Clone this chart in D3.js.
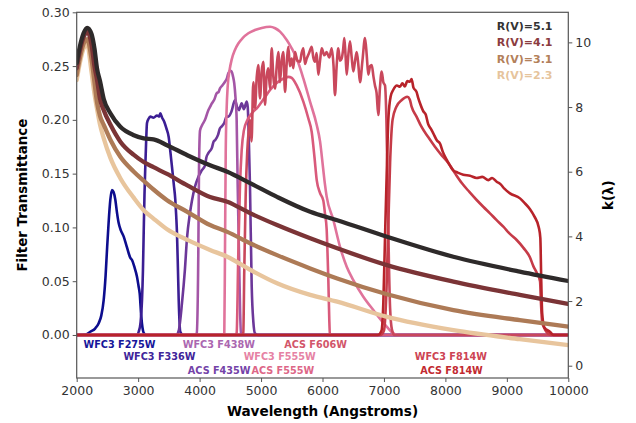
<!DOCTYPE html>
<html>
<head>
<meta charset="utf-8">
<script src="https://cdn.jsdelivr.net/npm/d3@7"></script>
<style>
  body { margin: 0; background: #fff; }
  svg { display: block; font-family: "DejaVu Sans", sans-serif; }
</style>
</head>
<body>
<svg id="chart"></svg>
<script>
const width = 636;
const height = 423;

// filter throughput curves, [wavelength (A), transmittance]
const f275w = [[2000,0],[2150,0.0005],[2221,0.003],[2300,0.006],[2358,0.011],[2400,0.018],[2439,0.0325],[2470,0.055],[2493,0.079],[2520,0.105],[2547,0.1255],[2574,0.1348],[2600,0.133],[2628,0.126],[2655,0.114],[2683,0.104],[2720,0.097],[2765,0.0914],[2800,0.085],[2846,0.076],[2870,0.072],[2900,0.0697],[2940,0.063],[2981,0.0542],[3005,0.046],[3025,0.0387],[3051,0.017],[3070,0.007],[3090,0.002],[3130,0],[10000,0]];
const f336w = [[2000,0],[2980,0],[3009,0.003],[3040,0.012],[3063,0.0325],[3078,0.06],[3090,0.0945],[3103,0.13],[3116,0.156],[3130,0.18],[3144,0.197],[3170,0.201],[3198,0.203],[3250,0.202],[3307,0.204],[3340,0.203],[3360,0.206],[3390,0.202],[3426,0.198],[3460,0.192],[3497,0.184],[3525,0.17],[3551,0.156],[3580,0.14],[3605,0.1255],[3620,0.11],[3632,0.0945],[3648,0.06],[3660,0.0325],[3686,0.003],[3730,0],[10000,0]];
const f435w = [[2000,0],[3620,0],[3660,0.004],[3714,0.03],[3760,0.06],[3795,0.09],[3840,0.112],[3876,0.125],[3925,0.138],[3980,0.147],[4034,0.153],[4090,0.158],[4110,0.165],[4142,0.169],[4200,0.174],[4230,0.18],[4251,0.181],[4300,0.186],[4330,0.192],[4360,0.194],[4400,0.197],[4440,0.203],[4467,0.203],[4520,0.208],[4576,0.2185],[4610,0.212],[4640,0.209],[4685,0.2155],[4720,0.21],[4767,0.217],[4783,0.212],[4800,0.185],[4820,0.138],[4848,0.045],[4875,0.012],[4902,0.0015],[4950,0],[10000,0]];
const f438w = [[2000,0],[3930,0],[3953,0.0015],[3979,0.076],[3990,0.153],[4007,0.19],[4040,0.195],[4088,0.2],[4142,0.209],[4170,0.212],[4197,0.215],[4240,0.219],[4278,0.2247],[4310,0.226],[4332,0.2293],[4370,0.232],[4413,0.2354],[4440,0.238],[4467,0.2433],[4500,0.2455],[4522,0.2448],[4545,0.24],[4564,0.234],[4585,0.22],[4603,0.2],[4620,0.138],[4641,0.076],[4660,0.02],[4674,0.0015],[4710,0],[10000,0]];
const f555wWfc3 = [[2000,0],[4380,0],[4402,0.002],[4413,0.076],[4425,0.169],[4440,0.21],[4457,0.231],[4490,0.247],[4522,0.256],[4575,0.265],[4630,0.271],[4700,0.276],[4793,0.2805],[4900,0.2835],[5011,0.2855],[5146,0.2866],[5230,0.2852],[5309,0.282],[5418,0.2742],[5499,0.2665],[5580,0.257],[5688,0.2386],[5797,0.2169],[5906,0.1953],[5960,0.18],[6010,0.155],[6040,0.14],[6068,0.1286],[6176,0.107],[6285,0.082],[6394,0.0635],[6501,0.051],[6664,0.0356],[6827,0.0232],[7045,0.0077],[7152,0.0016],[7250,0],[10000,0]];
const f555wAcs = [[2000,0],[4580,0],[4603,0.002],[4630,0.076],[4657,0.138],[4685,0.172],[4720,0.19],[4780,0.2],[4850,0.206],[4950,0.212],[5050,0.22],[5150,0.228],[5250,0.234],[5350,0.238],[5444,0.24],[5499,0.239],[5580,0.232],[5688,0.217],[5769,0.2015],[5824,0.189],[5870,0.165],[5906,0.144],[5960,0.132],[6013,0.125],[6040,0.113],[6068,0.098],[6085,0.07],[6095,0.051],[6110,0.015],[6120,0.0015],[6150,0],[10000,0]];
const f606w = [[2000,0],[4690,0],[4711,0.002],[4727,0.06],[4750,0.13],[4775,0.17],[4800,0.19],[4820,0.2],[4845,0.18],[4874,0.235],[4902,0.211],[4930,0.24],[4955,0.251],[4983,0.22],[5010,0.245],[5037,0.254],[5064,0.214],[5090,0.24],[5118,0.248],[5146,0.229],[5173,0.2665],[5200,0.24],[5227,0.229],[5255,0.25],[5281,0.263],[5308,0.235],[5335,0.255],[5362,0.263],[5390,0.226],[5420,0.255],[5444,0.268],[5470,0.25],[5499,0.257],[5525,0.248],[5553,0.263],[5590,0.255],[5634,0.254],[5660,0.262],[5688,0.2665],[5715,0.252],[5743,0.257],[5780,0.262],[5824,0.268],[5850,0.258],[5878,0.254],[5905,0.262],[5932,0.242],[5960,0.255],[5987,0.2665],[6030,0.26],[6068,0.263],[6110,0.258],[6150,0.2665],[6180,0.25],[6203,0.223],[6230,0.25],[6257,0.2665],[6285,0.255],[6312,0.257],[6335,0.265],[6355,0.276],[6375,0.26],[6394,0.242],[6420,0.26],[6448,0.273],[6475,0.258],[6501,0.245],[6530,0.255],[6557,0.263],[6585,0.25],[6610,0.235],[6650,0.255],[6692,0.276],[6720,0.26],[6745,0.242],[6775,0.25],[6801,0.251],[6830,0.24],[6854,0.232],[6880,0.225],[6908,0.2045],[6935,0.23],[6963,0.245],[6990,0.235],[7017,0.232],[7040,0.2],[7060,0.14],[7080,0.07],[7100,0.025],[7130,0.005],[7170,0],[10000,0]];
const f814wWfc3 = [[2000,0],[6950,0],[7000,0.004],[7040,0.04],[7070,0.1],[7100,0.16],[7140,0.2],[7200,0.212],[7290,0.2185],[7380,0.2215],[7420,0.219],[7450,0.2122],[7530,0.203],[7610,0.1936],[7720,0.184],[7830,0.175],[7940,0.167],[8050,0.1596],[8160,0.15],[8270,0.141],[8390,0.133],[8509,0.1255],[8620,0.119],[8725,0.1131],[8830,0.107],[8943,0.1007],[9050,0.094],[9160,0.0883],[9270,0.081],[9377,0.072],[9431,0.064],[9485,0.058],[9540,0.05],[9555,0.03],[9575,0.012],[9621,0.005],[9680,0.001],[9720,0],[10000,0]];
const f814wAcs = [[2000,0],[6900,0],[6960,0.004],[6990,0.03],[7017,0.09],[7045,0.15],[7071,0.2],[7110,0.222],[7152,0.228],[7210,0.232],[7261,0.2308],[7300,0.234],[7340,0.231],[7380,0.236],[7424,0.2355],[7450,0.238],[7480,0.23],[7530,0.226],[7560,0.22],[7587,0.2154],[7640,0.208],[7680,0.205],[7720,0.196],[7760,0.192],[7803,0.1875],[7860,0.181],[7912,0.178],[7960,0.17],[8020,0.163],[8080,0.157],[8129,0.153],[8200,0.151],[8291,0.149],[8400,0.148],[8509,0.146],[8600,0.147],[8700,0.144],[8760,0.146],[8835,0.1425],[8900,0.14],[8960,0.136],[9051,0.1317],[9214,0.127],[9300,0.122],[9377,0.117],[9450,0.11],[9520,0.1],[9545,0.09],[9560,0.05],[9575,0.02],[9610,0.007],[9700,0.003],[9760,0],[10000,0]];

const filterNames = ["WFC3 F275W", "WFC3 F336W", "ACS F435W", "WFC3 F438W", "WFC3 F555W", "ACS F555W", "ACS F606W", "WFC3 F814W", "ACS F814W"];
const filterCurves = [f275w, f336w, f435w, f438w, f555wWfc3, f555wAcs, f606w, f814wWfc3, f814wAcs];
// label anchor (wavelength, transmittance) under the zero line
const labelWave = [2697, 3347, 4319, 4313, 5303, 5354, 5886, 8088, 8099];
const labelRow = [-0.0084, -0.0202, -0.033, -0.0084, -0.0202, -0.033, -0.0084, -0.0202, -0.033];

// extinction curves k(lambda)
const extWave = [2000, 2050, 2110, 2170, 2240, 2290, 2330, 2380, 2440, 2550, 2710, 2930, 3090, 3250, 3470, 3800, 4170, 4450, 4830, 5260, 5800, 6240, 7050, 8130, 9210, 10000];
const k51 = [9.36, 9.86, 10.27, 10.45, 10.27, 9.8, 9.2, 8.8, 8.25, 7.8, 7.39, 7.13, 7.03, 7.0, 6.82, 6.51, 6.2, 6.0, 5.64, 5.22, 4.76, 4.5, 3.99, 3.37, 2.91, 2.62];
const k41 = [9.2, 9.72, 10.15, 10.32, 9.95, 9.25, 8.85, 8.25, 7.9, 7.45, 6.93, 6.52, 6.3, 6.14, 5.93, 5.58, 5.22, 5.07, 4.71, 4.35, 3.94, 3.63, 3.11, 2.6, 2.19, 1.91];
const k31 = [8.99, 9.5, 9.95, 10.1, 9.5, 8.75, 8.15, 7.72, 7.45, 6.98, 6.46, 6.0, 5.72, 5.45, 5.12, 4.76, 4.35, 4.14, 3.78, 3.42, 3.01, 2.7, 2.21, 1.72, 1.41, 1.21];
const k23 = [8.83, 9.35, 9.8, 9.95, 9.1, 8.4, 7.95, 7.45, 7.03, 6.42, 5.8, 5.19, 4.81, 4.55, 4.22, 3.89, 3.58, 3.37, 2.96, 2.55, 2.19, 1.98, 1.51, 1.1, 0.82, 0.64];
const rvNames = ["R(V)=5.1", "R(V)=4.1", "R(V)=3.1", "R(V)=2.3"];
const rvCurves = [k51, k41, k31, k23];

const xTicks = [2000, 3000, 4000, 5000, 6000, 7000, 8000, 9000, 10000];
const yTicks = [0, 0.05, 0.10, 0.15, 0.20, 0.25, 0.30];
const kTicks = [0, 2, 4, 6, 8, 10];

// styles
const filterColors = ["#0d0d8e", "#3b1e94", "#6c3799", "#a456a6", "#e0739b", "#d95a7b", "#c9485c", "#c63b48", "#b8232a"];
const labelColors = ["#16169a", "#40259a", "#7443a8", "#ab67b0", "#e682a4", "#dd6787", "#d2566a", "#cd4453", "#c22a30"];
const rvColors = ["#2e2a2a", "#7b3436", "#ad7a56", "#e8c59d"];
const rvText = ["#333333", "#8b3c40", "#b3805a", "#e6c49c"];

const plotLeft = 76.7, plotRight = 568.3, plotTop = 12.3, plotBottom = 378;

const x = d3.scaleLinear().domain([2000, 10000]).range([plotLeft, plotRight]);
const y = d3.scaleLinear().domain([-0.04, 0.30]).range([plotBottom, plotTop]);
const k = d3.scaleLinear().domain([-0.38, 10.93]).range([plotBottom, plotTop]);

const svg = d3.select("#chart")
  .attr("width", width)
  .attr("height", height)
  .attr("viewBox", [0, 0, width, height]);

svg.append("defs").append("clipPath").attr("id", "plot")
  .append("rect")
    .attr("x", plotLeft).attr("y", plotTop)
    .attr("width", plotRight - plotLeft).attr("height", plotBottom - plotTop);

const plot = svg.append("g").attr("clip-path", "url(#plot)");

const filterLine = d3.line()
  .x(d => x(d[0]))
  .y(d => y(d[1]))
  .curve(d3.curveMonotoneX);

plot.append("g")
  .selectAll("path")
  .data(filterCurves)
  .join("path")
    .attr("d", filterLine)
    .attr("fill", "none")
    .attr("stroke", (d, i) => filterColors[i])
    .attr("stroke-width", 2.6)
    .attr("stroke-linejoin", "round");

const kLine = d3.line()
  .x((d, i) => x(extWave[i]))
  .y(d => k(d))
  .curve(d3.curveMonotoneX);

plot.append("g")
  .selectAll("path")
  .data(rvCurves.slice().reverse())
  .join("path")
    .attr("d", kLine)
    .attr("fill", "none")
    .attr("stroke", (d, i) => rvColors[rvCurves.length - 1 - i])
    .attr("stroke-width", 4.3)
    .attr("stroke-linecap", "round");

// filter labels
svg.append("g")
  .selectAll("text")
  .data(filterNames)
  .join("text")
    .attr("x", (d, i) => x(labelWave[i]))
    .attr("y", (d, i) => y(labelRow[i]))
    .attr("dy", "0.36em")
    .attr("text-anchor", "middle")
    .attr("font-size", 9.7)
    .attr("font-weight", "bold")
    .attr("fill", (d, i) => labelColors[i])
    .text(d => d);

// R(V) legend
svg.append("g")
  .selectAll("text")
  .data(rvNames)
  .join("text")
    .attr("x", 552.5)
    .attr("y", (d, i) => 29.6 + i * 16.5)
    .attr("text-anchor", "end")
    .attr("font-size", 11)
    .attr("font-weight", "bold")
    .attr("fill", (d, i) => rvText[i])
    .text(d => d);

// axes
function styleAxis(g) {
  g.select(".domain").remove();
  g.selectAll(".tick line").attr("stroke", "#555").attr("stroke-width", 1);
  g.selectAll(".tick text").attr("fill", "#333").attr("font-size", 12.5)
    .attr("font-family", "DejaVu Sans, sans-serif");
}

svg.append("g")
  .attr("transform", `translate(0,${plotBottom})`)
  .call(d3.axisBottom(x).tickValues(xTicks).tickSize(4).tickPadding(4).tickFormat(d3.format("d")))
  .call(styleAxis);

svg.append("g")
  .attr("transform", `translate(${plotLeft},0)`)
  .call(d3.axisLeft(y).tickValues(yTicks).tickSize(4).tickPadding(3).tickFormat(d3.format(".2f")))
  .call(styleAxis);

svg.append("g")
  .attr("transform", `translate(${plotRight},0)`)
  .call(d3.axisRight(k).tickValues(kTicks).tickSize(4).tickPadding(3).tickFormat(d3.format("d")))
  .call(styleAxis);

svg.append("rect")
  .attr("x", plotLeft).attr("y", plotTop)
  .attr("width", plotRight - plotLeft).attr("height", plotBottom - plotTop)
  .attr("fill", "none")
  .attr("stroke", "#555")
  .attr("stroke-width", 1.2);

// axis titles
svg.append("text")
  .attr("x", (plotLeft + plotRight) / 2)
  .attr("y", 416)
  .attr("text-anchor", "middle")
  .attr("font-size", 13.6)
  .attr("font-weight", "bold")
  .attr("fill", "#000")
  .text("Wavelength (Angstroms)");

svg.append("text")
  .attr("transform", `translate(26.5,${(plotTop + plotBottom) / 2}) rotate(-90)`)
  .attr("text-anchor", "middle")
  .attr("font-size", 13.4)
  .attr("font-weight", "bold")
  .attr("fill", "#000")
  .text("Filter Transmittance");

svg.append("text")
  .attr("transform", `translate(613,${(plotTop + plotBottom) / 2}) rotate(-90)`)
  .attr("text-anchor", "middle")
  .attr("font-size", 13.4)
  .attr("font-weight", "bold")
  .attr("fill", "#000")
  .text("k(λ)");
</script>
</body>
</html>
